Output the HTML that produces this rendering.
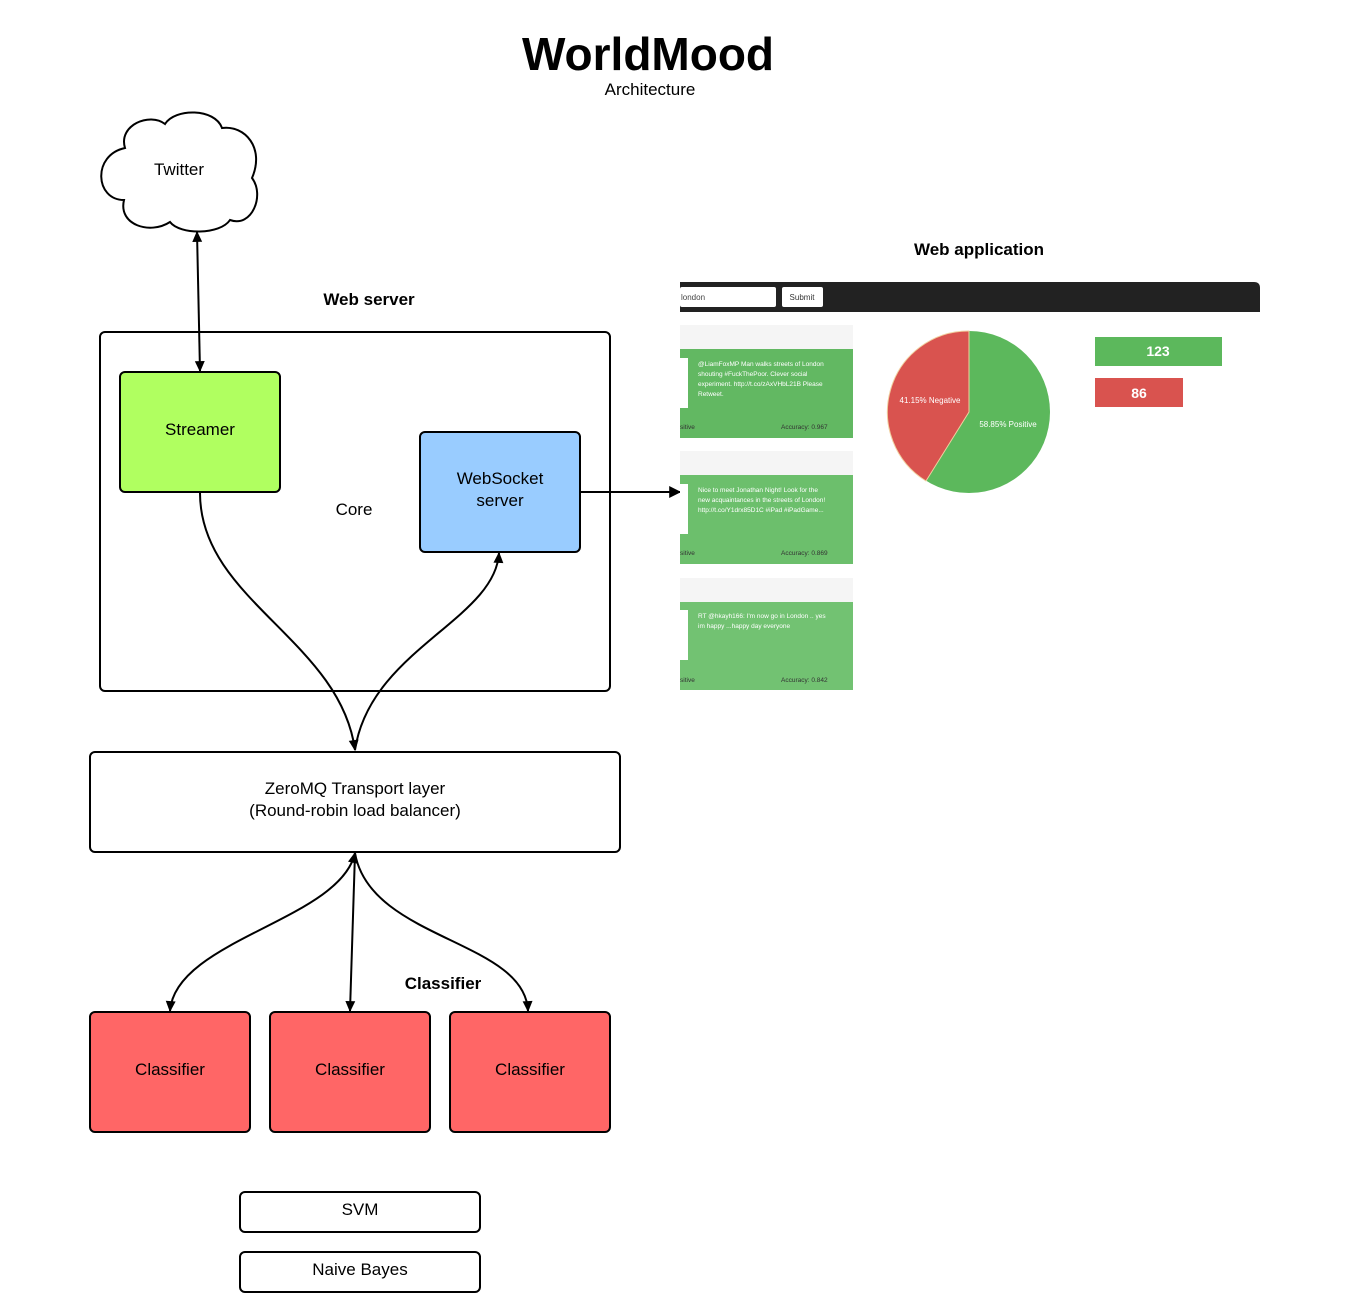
<!DOCTYPE html>
<html><head><meta charset="utf-8"><style>
html,body{margin:0;padding:0;background:#fff}
svg{display:block}
text{font-family:"Liberation Sans",Arial,sans-serif}
</style></head><body>
<svg width="1360" height="1313" viewBox="0 0 1360 1313" xmlns="http://www.w3.org/2000/svg">
<defs>
<marker id="a" viewBox="0 0 10 10" refX="9" refY="5" markerWidth="13" markerHeight="11" orient="auto-start-reverse" markerUnits="userSpaceOnUse"><path d="M0,0.5 L10,5 L0,9.5 z" fill="#000"/></marker>
<marker id="b" viewBox="0 0 10 10" refX="9" refY="5" markerWidth="14" markerHeight="12" orient="auto-start-reverse" markerUnits="userSpaceOnUse"><path d="M0,0 L10,5 L0,10 z" fill="#000"/></marker>
</defs>
<text x="648" y="70" font-size="46" font-weight="bold" text-anchor="middle">WorldMood</text>
<text x="650" y="95" font-size="17" text-anchor="middle">Architecture</text>

<path d="M125,148 C118,125 150,112 165,124 C175,108 215,108 222,128 C245,125 265,148 252,178 C265,195 252,228 230,220 C220,235 180,235 170,222 C150,235 118,225 124,200 C95,200 92,155 125,148 Z" fill="#fff" stroke="#000" stroke-width="2"/>
<text x="179" y="175" font-size="17" text-anchor="middle">Twitter</text>

<text x="369" y="305" font-size="17" font-weight="bold" text-anchor="middle">Web server</text>
<rect x="100" y="332" width="510" height="359" rx="5" fill="#fff" stroke="#000" stroke-width="2"/>
<rect x="120" y="372" width="160" height="120" rx="5" fill="#b0ff60" stroke="#000" stroke-width="2"/>
<text x="200" y="435" font-size="17" text-anchor="middle">Streamer</text>
<rect x="420" y="432" width="160" height="120" rx="5" fill="#99ccff" stroke="#000" stroke-width="2"/>
<text x="500" y="484" font-size="17" text-anchor="middle">WebSocket</text>
<text x="500" y="506" font-size="17" text-anchor="middle">server</text>
<text x="354" y="515" font-size="17" text-anchor="middle">Core</text>

<rect x="90" y="752" width="530" height="100" rx="5" fill="#fff" stroke="#000" stroke-width="2"/>
<text x="355" y="794" font-size="17" text-anchor="middle">ZeroMQ Transport layer</text>
<text x="355" y="816" font-size="17" text-anchor="middle">(Round-robin load balancer)</text>

<text x="443" y="989" font-size="17" font-weight="bold" text-anchor="middle">Classifier</text>
<rect x="90" y="1012" width="160" height="120" rx="5" fill="#ff6666" stroke="#000" stroke-width="2"/>
<rect x="270" y="1012" width="160" height="120" rx="5" fill="#ff6666" stroke="#000" stroke-width="2"/>
<rect x="450" y="1012" width="160" height="120" rx="5" fill="#ff6666" stroke="#000" stroke-width="2"/>
<text x="170" y="1075" font-size="17" text-anchor="middle">Classifier</text>
<text x="350" y="1075" font-size="17" text-anchor="middle">Classifier</text>
<text x="530" y="1075" font-size="17" text-anchor="middle">Classifier</text>

<rect x="240" y="1192" width="240" height="40" rx="5" fill="#fff" stroke="#000" stroke-width="2"/>
<text x="360" y="1215" font-size="17" text-anchor="middle">SVM</text>
<rect x="240" y="1252" width="240" height="40" rx="5" fill="#fff" stroke="#000" stroke-width="2"/>
<text x="360" y="1275" font-size="17" text-anchor="middle">Naive Bayes</text>

<g fill="none" stroke="#000" stroke-width="2">
<path d="M197,232 L200,371" marker-start="url(#a)" marker-end="url(#a)"/>
<path d="M200,493 C200,600 340,640 355,750" marker-end="url(#a)"/>
<path d="M355,750 C370,650 495,620 499,553" marker-end="url(#a)"/>
<path d="M581,492 L680,492" marker-end="url(#b)"/>
<path d="M355,853 C340,920 175,940 170,1011" marker-start="url(#a)" marker-end="url(#a)"/>
<path d="M355,853 L350,1011" marker-end="url(#a)"/>
<path d="M355,853 C370,940 525,940 528,1011" marker-end="url(#a)"/>
</g>

<text x="979" y="255" font-size="17" font-weight="bold" text-anchor="middle">Web application</text>
<path d="M680,282 L1254,282 Q1260,282 1260,288 L1260,312 L680,312 Z" fill="#222"/>
<rect x="680" y="287" width="96" height="20" rx="2" fill="#fff"/>
<text x="681" y="300" font-size="8" fill="#444">london</text>
<rect x="782" y="287" width="41" height="20" rx="2" fill="#fff"/>
<text x="802" y="300" font-size="8" text-anchor="middle" fill="#333">Submit</text>

<g font-size="6.5" fill="#fff">
<rect x="680" y="325" width="173" height="24" fill="#f5f5f5"/>
<rect x="680" y="349" width="173" height="89" fill="#62b862"/>
<rect x="680" y="358" width="8" height="50" fill="#fff"/>
<text x="698" y="366">@LiamFoxMP Man walks streets of London</text>
<text x="698" y="376">shouting #FuckThePoor. Clever social</text>
<text x="698" y="386">experiment. http://t.co/zAxVHbL21B Please</text>
<text x="698" y="396">Retweet.</text>
<text x="680" y="429" fill="#333">sitive</text>
<text x="781" y="429" fill="#333">Accuracy: 0.967</text>

<rect x="680" y="451" width="173" height="24" fill="#f5f5f5"/>
<rect x="680" y="475" width="173" height="89" fill="#6cbf6c"/>
<rect x="680" y="484" width="8" height="50" fill="#fff"/>
<text x="698" y="492">Nice to meet Jonathan Night! Look for the</text>
<text x="698" y="502">new acquaintances in the streets of London!</text>
<text x="698" y="512">http://t.co/Y1drx85D1C #iPad #iPadGame...</text>
<text x="680" y="555" fill="#333">sitive</text>
<text x="781" y="555" fill="#333">Accuracy: 0.869</text>

<rect x="680" y="578" width="173" height="24" fill="#f5f5f5"/>
<rect x="680" y="602" width="173" height="88" fill="#72c272"/>
<rect x="680" y="610" width="8" height="50" fill="#fff"/>
<text x="698" y="618">RT @hkayh166: I'm now go in London .. yes</text>
<text x="698" y="628">im happy ...happy day everyone</text>
<text x="680" y="682" fill="#333">sitive</text>
<text x="781" y="682" fill="#333">Accuracy: 0.842</text>
</g>

<circle cx="969" cy="412" r="81" fill="#5cb85c"/>
<path d="M969,412 L969,331 A81,81 0 0 0 926,481 Z" fill="#d9534f" stroke="#f0d0a0" stroke-width="1"/>
<text x="930" y="403" font-size="8" fill="#fff" text-anchor="middle">41.15% Negative</text>
<text x="1008" y="427" font-size="8" fill="#fff" text-anchor="middle">58.85% Positive</text>

<rect x="1095" y="337" width="127" height="29" fill="#5cb85c"/>
<text x="1158" y="356" font-size="14" font-weight="bold" fill="#fff" text-anchor="middle">123</text>
<rect x="1095" y="378" width="88" height="29" fill="#d9534f"/>
<text x="1139" y="398" font-size="14" font-weight="bold" fill="#fff" text-anchor="middle">86</text>
</svg>
</body></html>
